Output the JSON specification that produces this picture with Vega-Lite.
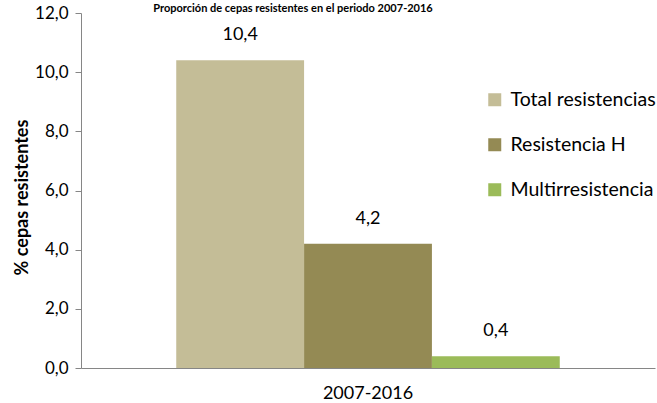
{
  "$schema": "https://vega.github.io/schema/vega-lite/v6.json",
  "width": 574,
  "height": 355,
  "autosize": {"type": "none"},
  "padding": {"left": 81, "top": 13, "right": 2, "bottom": 35},
  "background": "white",
  "title": {"text": "Proporción de cepas resistentes en el periodo 2007-2016", "fontSize": 11, "font": "Lato", "fontWeight": "bold", "color": "#000000", "frame": "group", "offset": -21, "dx": -75, "baseline": "bottom"},
  "config": {
    "locale": {"number": {"decimal": ",", "thousands": ".", "grouping": [3], "currency": ["", " €"]}},
    "font": "Lato",
    "view": {"stroke": null}
  },
  "data": {"values": [
    {"periodo": "2007-2016", "tipo": "Total resistencias", "valor": 10.4},
    {"periodo": "2007-2016", "tipo": "Resistencia H", "valor": 4.2},
    {"periodo": "2007-2016", "tipo": "Multirresistencia", "valor": 0.4}
  ]},
  "encoding": {
    "x": {"field": "periodo", "type": "nominal", "scale": {"paddingInner": 0, "paddingOuter": 0},
      "axis": {"title": null, "labelAngle": 0, "labelFontSize": 18, "labelColor": "#000000", "domainColor": "#868686", "tickColor": "#868686", "ticks": false, "labelPadding": 16}},
    "xOffset": {"field": "tipo", "type": "nominal", "sort": ["Total resistencias", "Resistencia H", "Multirresistencia"], "scale": {"paddingInner": 0, "paddingOuter": 0.745}},
    "y": {"field": "valor", "type": "quantitative", "scale": {"domain": [0, 12], "nice": false},
      "axis": {"title": "% cepas resistentes", "titleFontSize": 18, "titleFontWeight": "bold", "titleColor": "#000000",
        "titleX": -59, "titleY": 184, "titleAngle": -90, "titleAlign": "center", "titleBaseline": "middle",
        "values": [0, 2, 4, 6, 8, 10, 12], "format": ".1f", "labelFontSize": 17, "labelColor": "#000000", "grid": false,
        "domainColor": "#868686", "tickColor": "#868686", "tickSize": 6, "labelPadding": 7}}
  },
  "layer": [
    {
      "mark": {"type": "bar"},
      "encoding": {
        "color": {"field": "tipo", "type": "nominal", "sort": ["Total resistencias", "Resistencia H", "Multirresistencia"],
          "scale": {"domain": ["Total resistencias", "Resistencia H", "Multirresistencia"], "range": ["#C4BD97", "#948A54", "#9BBB59"]},
          "legend": {"title": null, "orient": "none", "legendX": 404, "legendY": 77, "symbolType": "square", "symbolSize": 169, "symbolStrokeWidth": 0,
            "labelFontSize": 19.5, "labelColor": "#000000", "rowPadding": 24, "labelOffset": 6}}
      }
    },
    {
      "mark": {"type": "text", "dy": -25, "fontSize": 18, "color": "#000000"},
      "encoding": {
        "text": {"field": "valor", "type": "quantitative", "format": ".1f"}
      }
    }
  ]
}
